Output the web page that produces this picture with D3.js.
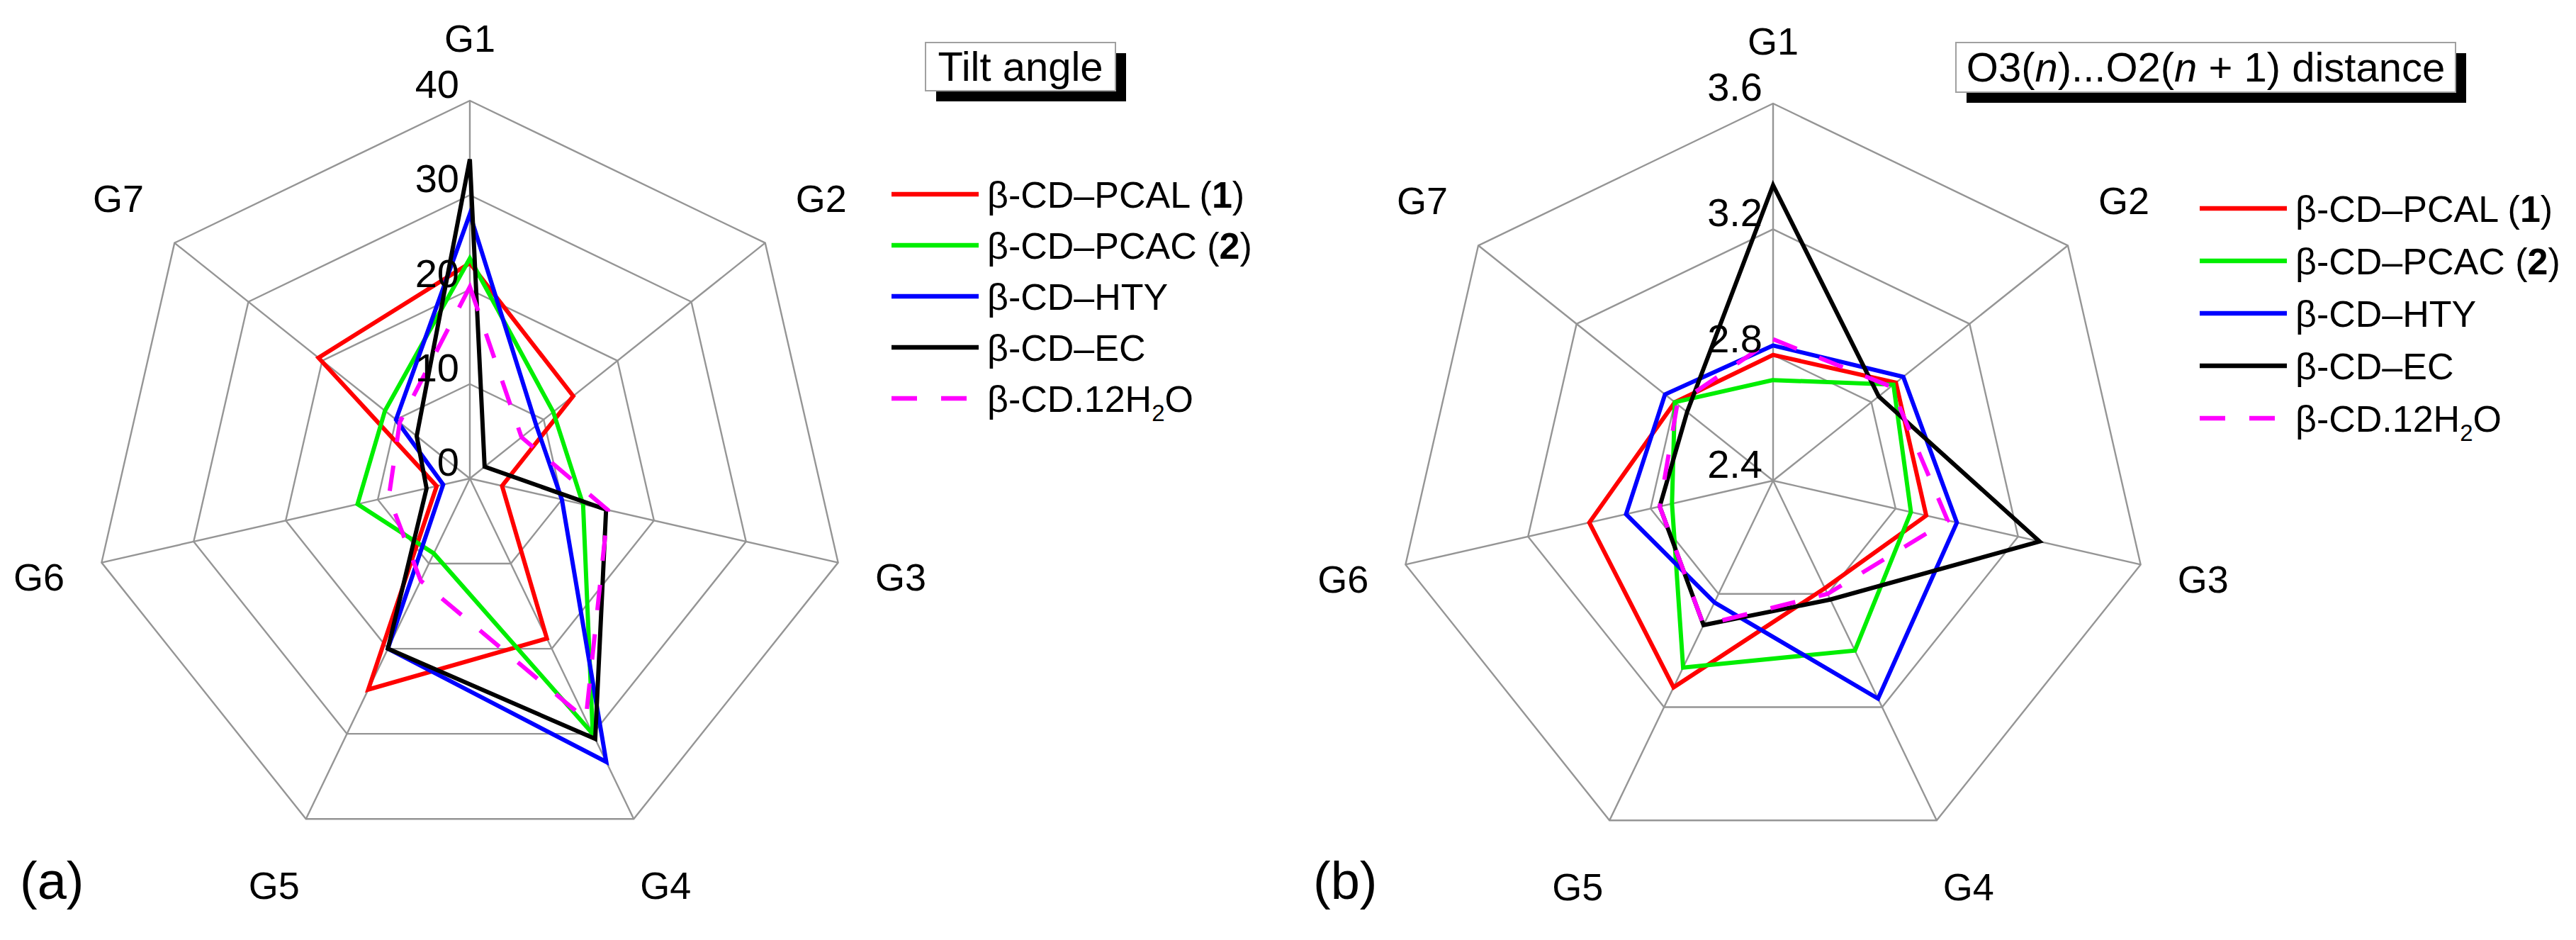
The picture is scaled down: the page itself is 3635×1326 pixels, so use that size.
<!DOCTYPE html>
<html><head><meta charset="utf-8">
<script src="https://cdn.jsdelivr.net/npm/d3@7"></script>
<style>
body{margin:0;background:#fff}
text{font-family:"Liberation Sans",Arial,sans-serif;fill:#000}
</style>
</head><body>
<svg id="c" width="3635" height="1326"></svg>
<script>
// ---------- data ----------
const categories = ["G1","G2","G3","G4","G5","G6","G7"];
const seriesNames = ["β-CD–PCAL (1)","β-CD–PCAC (2)","β-CD–HTY","β-CD–EC","β-CD.12H2O"];
const tiltTicks = [0,10,20,30,40];
const distTicks = [2.4,2.8,3.2,3.6];

// (a) Tilt angle
const tilt_PCAL = [22.8, 14.0, 3.5, 18.8, 24.8, 3.6, 20.5];
const tilt_PCAC = [23.3, 11.3, 12.3, 30.0, 8.8, 12.2, 11.5];
const tilt_HTY  = [28.0, 9.0, 10.0, 33.3, 20.0, 2.9, 10.0];
const tilt_EC   = [33.8, 2.0, 14.8, 30.6, 20.0, 4.7, 7.2];
const tilt_H2O  = [20.3, 7.0, 15.0, 28.3, 12.0, 8.8, 9.5];

// (b) O3(n)...O2(n+1) distance
const dist_PCAL = [2.80, 2.90, 2.90, 2.78, 3.13, 3.00, 2.80];
const dist_PCAC = [2.72, 2.89, 2.85, 3.00, 3.06, 2.73, 2.80];
const dist_HTY  = [2.83, 2.93, 3.00, 3.17, 2.83, 2.88, 2.84];
const dist_EC   = [3.34, 2.83, 3.27, 2.82, 2.91, 2.77, 2.75];
const dist_H2O  = [2.85, 2.88, 2.97, 2.80, 2.91, 2.77, 2.79];

// ---------- drawing ----------
const colors = ["#ff0000","#00ee00","#0000ff","#000000","#ff00ff"];
const dashes = [null,null,null,null,"36,34"];
const labelFactor = [1.165, 1.19, 1.17, 1.195, 1.195, 1.17, 1.19];
const svg = d3.select("#c");
svg.append("rect").attr("width",3635).attr("height",1326).attr("fill","#fff");

function radar(cfg){
  const g = svg.append("g").attr("transform",`translate(${cfg.cx},${cfg.cy})`);
  const r = d3.scaleLinear().domain([cfg.ticks[0], cfg.ticks[cfg.ticks.length-1]]).range([0,cfg.R]);
  const ang = d3.scaleLinear().domain([0,categories.length]).range([0,2*Math.PI]);
  const line = d3.lineRadial().angle((d,i)=>ang(i)).radius(d=>r(d)).curve(d3.curveLinearClosed);

  // rings
  cfg.ticks.slice(1).forEach(t=>{
    g.append("path").attr("d",line(categories.map(()=>t)))
      .attr("fill","none").attr("stroke","#959595").attr("stroke-width",2.4);
  });
  // spokes + category labels
  const maxT = cfg.ticks[cfg.ticks.length-1];
  categories.forEach((c,i)=>{
    const a = ang(i);
    g.append("line").attr("x1",0).attr("y1",0)
      .attr("x2",r(maxT)*Math.sin(a)).attr("y2",-r(maxT)*Math.cos(a))
      .attr("stroke","#959595").attr("stroke-width",2.4);
    const lf = labelFactor[i];
    g.append("text").attr("x",r(maxT)*lf*Math.sin(a)).attr("y",-r(maxT)*lf*Math.cos(a))
      .attr("text-anchor","middle").attr("dominant-baseline","central")
      .attr("font-size",54).text(c);
  });
  // series
  cfg.series.forEach((s,k)=>{
    g.append("path").attr("d",line(s))
      .attr("fill","none").attr("stroke",colors[k]).attr("stroke-width",6)
      .attr("stroke-linejoin","miter").attr("stroke-dasharray",dashes[k]);
  });
  // tick labels
  cfg.ticks.forEach(t=>{
    g.append("text").attr("x",-15).attr("y",-r(t)-4).attr("text-anchor","end")
      .attr("font-size",56).text(cfg.fmt(t));
  });
  // panel letter
  svg.append("text").attr("x",cfg.letterX).attr("y",1268).attr("font-size",74).text(cfg.letter);

  // title box with shadow
  const tb = cfg.title;
  svg.append("rect").attr("x",tb.x+15).attr("y",tb.y+15).attr("width",tb.w).attr("height",tb.h).attr("fill","#000");
  svg.append("rect").attr("x",tb.x).attr("y",tb.y).attr("width",tb.w).attr("height",tb.h)
    .attr("fill","#fff").attr("stroke","#a0a0a0").attr("stroke-width",2);
  const tt = svg.append("text").attr("x",tb.x+tb.w/2).attr("y",tb.y+tb.h/2+20)
    .attr("text-anchor","middle").attr("font-size",58);
  tb.parts.forEach(p=>{ const ts=tt.append("tspan").text(p[0]); if(p[1]) ts.attr("font-style","italic"); });

  // legend
  const lg = cfg.legend;
  seriesNames.forEach((n,k)=>{
    const y = lg.y + k*lg.dy;
    svg.append("line").attr("x1",lg.x).attr("x2",lg.x+123).attr("y1",y).attr("y2",y)
      .attr("stroke",colors[k]).attr("stroke-width",6.5).attr("stroke-dasharray",dashes[k]);
    const t = svg.append("text").attr("x",lg.x+135).attr("y",y+19).attr("font-size",52);
    if(k===0){ t.append("tspan").text("β-CD–PCAL ("); t.append("tspan").attr("font-weight","bold").text("1"); t.append("tspan").text(")"); }
    else if(k===1){ t.append("tspan").text("β-CD–PCAC ("); t.append("tspan").attr("font-weight","bold").text("2"); t.append("tspan").text(")"); }
    else if(k===4){ t.append("tspan").text("β-CD.12H"); t.append("tspan").attr("font-size",33).attr("dy",13).text("2"); t.append("tspan").attr("dy",-13).text("O"); }
    else t.text(n);
  });
}

radar({cx:663, cy:675, R:533, ticks:tiltTicks, fmt:d=>String(d),
  series:[tilt_PCAL,tilt_PCAC,tilt_HTY,tilt_EC,tilt_H2O],
  letter:"(a)", letterX:28,
  title:{x:1306,y:60,w:268,h:68,parts:[["Tilt angle",false]]},
  legend:{x:1258,y:274,dy:72}});

radar({cx:2502, cy:678, R:532, ticks:distTicks, fmt:d=>d.toFixed(1),
  series:[dist_PCAL,dist_PCAC,dist_HTY,dist_EC,dist_H2O],
  letter:"(b)", letterX:1853,
  title:{x:2760,y:60,w:705,h:70,parts:[["O3(",false],["n",true],[")...O2(",false],["n",true],[" + 1) distance",false]]},
  legend:{x:3104,y:294,dy:74}});
</script>
</body></html>
